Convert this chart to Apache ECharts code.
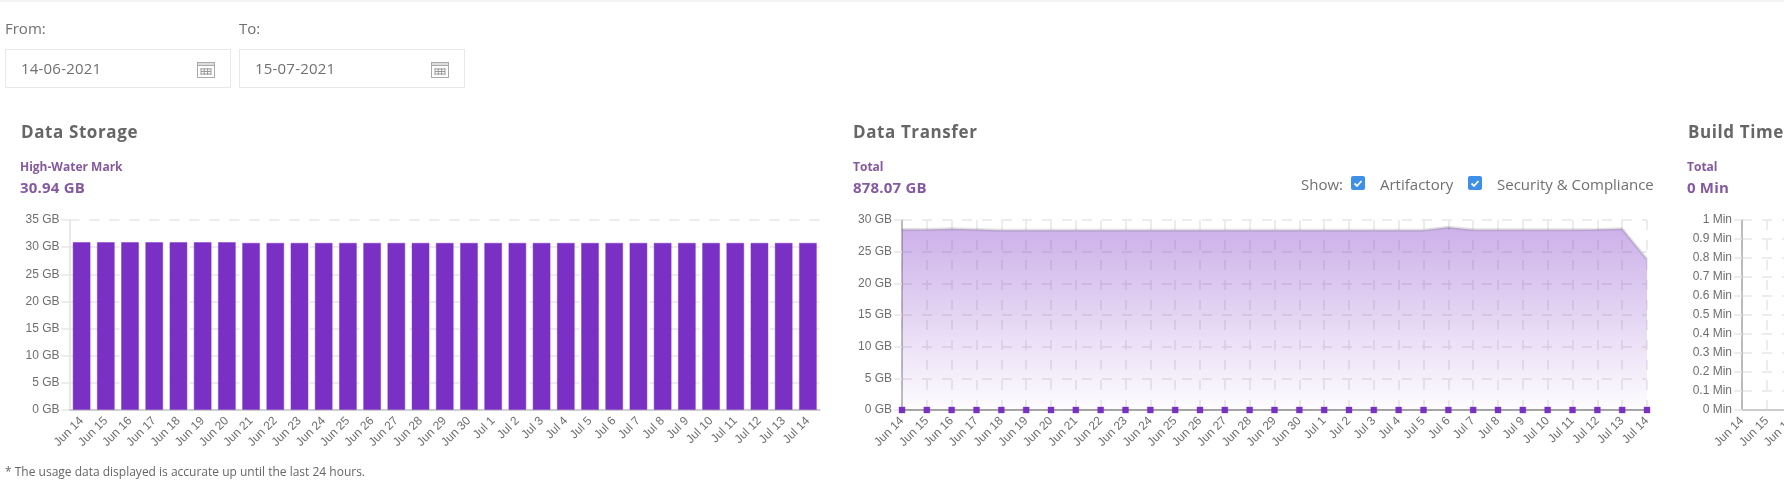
<!DOCTYPE html>
<html><head><meta charset="utf-8">
<script src="https://cdn.jsdelivr.net/npm/echarts@6/dist/echarts.min.js"></script>
<style>
html,body{margin:0;padding:0;width:1784px;height:482px;overflow:hidden;background:#fff;font-family:"Open Sans",sans-serif;color:#666}
#strip{position:absolute;left:0;top:0;width:1784px;height:2px;background:#f4f4f4}
#chart{position:absolute;left:0;top:0;width:2600px;height:482px}
.t{position:absolute;white-space:nowrap;line-height:1}
.lab{font-size:15px;top:21px;color:#707070}
.inp{position:absolute;top:49px;width:224px;height:37px;border:1px solid #e8e8e8;background:#fff;box-sizing:content-box}
.inp span{position:absolute;left:15px;top:11px;font-size:15px;line-height:1;color:#707070;letter-spacing:.2px}
.inp svg{position:absolute;right:15px;top:10px}
.h{font-size:17px;font-weight:700;letter-spacing:.6px;top:123px;color:#666}
.s{font-size:12px;font-weight:700;color:#85599f;top:161px}
.v{font-size:15px;font-weight:700;color:#85599f;top:180px;letter-spacing:.2px}
.show{font-size:15px;top:177px;color:#707070}
.cb{position:absolute;top:176px;width:14px;height:14px;background:#3d8fe8;border-radius:2px}
.cb svg{position:absolute;left:0;top:0}
.foot{font-size:12px;left:5px;top:466px;color:#666}
</style></head><body>
<div id="strip"></div>
<div id="chart"></div>
<div class="t lab" style="left:5px">From:</div>
<div class="t lab" style="left:239px">To:</div>
<div class="inp" style="left:5px"><span>14-06-2021</span><svg width="18" height="18" viewBox="0 0 18 18"><rect x=".5" y="2.5" width="17" height="15" fill="#fff" stroke="#aaa"/><rect x=".5" y="2.5" width="17" height="3" fill="#ddd" stroke="#aaa"/><path d="M4 9h10M4 11.5h10M4 14h10M4 8v7M7.3 8v7M10.6 8v7M14 8v7" stroke="#999" fill="none"/></svg></div>
<div class="inp" style="left:239px"><span>15-07-2021</span><svg width="18" height="18" viewBox="0 0 18 18"><rect x=".5" y="2.5" width="17" height="15" fill="#fff" stroke="#aaa"/><rect x=".5" y="2.5" width="17" height="3" fill="#ddd" stroke="#aaa"/><path d="M4 9h10M4 11.5h10M4 14h10M4 8v7M7.3 8v7M10.6 8v7M14 8v7" stroke="#999" fill="none"/></svg></div>
<div class="t h" style="left:21px">Data Storage</div>
<div class="t s" style="left:20px">High-Water Mark</div>
<div class="t v" style="left:20px">30.94 GB</div>
<div class="t h" style="left:853px">Data Transfer</div>
<div class="t s" style="left:853px">Total</div>
<div class="t v" style="left:853px">878.07 GB</div>
<div class="t show" style="left:1301px">Show:</div>
<div class="cb" style="left:1351px"><svg width="14" height="14"><path d="M3.5 7.5l2.5 2.5 4.5-5" stroke="#fff" stroke-width="1.8" fill="none"/></svg></div>
<div class="t show" style="left:1380px">Artifactory</div>
<div class="cb" style="left:1468px"><svg width="14" height="14"><path d="M3.5 7.5l2.5 2.5 4.5-5" stroke="#fff" stroke-width="1.8" fill="none"/></svg></div>
<div class="t show" style="left:1497px">Security &amp; Compliance</div>
<div class="t h" style="left:1688px">Build Time</div>
<div class="t s" style="left:1687px">Total</div>
<div class="t v" style="left:1687px">0 Min</div>
<div class="t foot">* The usage data displayed is accurate up until the last 24 hours.</div>
<script>
const days = ['Jun 14','Jun 15','Jun 16','Jun 17','Jun 18','Jun 19','Jun 20','Jun 21','Jun 22','Jun 23','Jun 24','Jun 25','Jun 26','Jun 27','Jun 28','Jun 29','Jun 30','Jul 1','Jul 2','Jul 3','Jul 4','Jul 5','Jul 6','Jul 7','Jul 8','Jul 9','Jul 10','Jul 11','Jul 12','Jul 13','Jul 14'];
const storage = [30.94,30.94,30.94,30.94,30.94,30.94,30.94,30.82,30.82,30.82,30.82,30.82,30.82,30.82,30.82,30.82,30.82,30.82,30.82,30.82,30.82,30.82,30.82,30.82,30.82,30.82,30.82,30.82,30.82,30.82,30.82];
const artifactory = [28.5,28.5,28.6,28.5,28.4,28.4,28.4,28.4,28.4,28.4,28.4,28.4,28.4,28.4,28.4,28.4,28.4,28.4,28.4,28.4,28.4,28.4,28.85,28.45,28.45,28.45,28.45,28.45,28.5,28.6,23.8];
const security = [0,0,0,0,0,0,0,0,0,0,0,0,0,0,0,0,0,0,0,0,0,0,0,0,0,0,0,0,0,0,0];
const buildMinutes = [0,0,0,0,0,0,0,0,0,0,0,0,0,0,0,0,0,0,0,0,0,0,0,0,0,0,0,0,0,0,0];

const purple = '#7a30c5', grid = '#e6e6e6', font = '"Liberation Sans",Arial,sans-serif', labelColor = '#6e6e6e';
const dashed = {show:true, lineStyle:{color:grid, width:1.5, type:[10,10]}};
const xAxis = (i, gap, vLines, lineColor) => ({
  type:'category', gridIndex:i, data:days, boundaryGap:gap,
  axisLine:{show:true, onZero:false, lineStyle:{color:lineColor, width:1.5}},
  axisTick:{show:false},
  axisLabel:{interval:0, rotate:45, color:labelColor, fontFamily:font, fontSize:12, margin:9},
  splitLine: vLines ? {show:true, interval:0, lineStyle:{color:grid, width:1.5, type:[10,10]}} : {show:false}
});
const yAxis = (i, max, step, unit, lineColor) => ({
  type:'value', gridIndex:i, min:0, max:max, interval:step,
  axisLine:{show:true, lineStyle:{color:lineColor, width:1.5}},
  axisTick:{show:true, length:8, lineStyle:{color:grid, width:1.5}},
  axisLabel:{color:labelColor, fontFamily:font, fontSize:12, margin:10,
    formatter:v => (Math.round(v*10)/10) + ' ' + unit},
  splitLine:dashed
});
const chart = echarts.init(document.getElementById('chart'), null, {renderer:'canvas'});
chart.setOption({
  animation:false,
  grid:[
    {left:69.5, top:220, width:750.5, height:190},
    {left:902, top:220, width:745, height:190},
    {left:1742, top:220, width:745, height:190}
  ],
  xAxis:[xAxis(0,true,false,'#c4c4c4'), xAxis(1,false,true,'#aaa'), xAxis(2,false,true,'#ccc')],
  yAxis:[yAxis(0,35,5,'GB','#e0e0e0'), yAxis(1,30,5,'GB','#aaa'), yAxis(2,1,0.1,'Min','#aaa')],
  series:[
    {name:'Data Storage', type:'bar', xAxisIndex:0, yAxisIndex:0, data:storage, barWidth:18,
      itemStyle:{color:purple, borderColor:'rgba(122,48,197,0.45)', borderWidth:1}},
    {name:'Artifactory', type:'line', xAxisIndex:1, yAxisIndex:1, data:artifactory, showSymbol:false, smooth:false,
      lineStyle:{color:'rgba(90,90,90,0.18)', width:3},
      areaStyle:{opacity:1, color:{type:'linear', x:0,y:0,x2:0,y2:1, colorStops:[
        {offset:0,color:'rgba(122,48,197,0.38)'},{offset:1,color:'rgba(122,48,197,0.01)'}]}}},
    {name:'Security & Compliance', type:'line', xAxisIndex:1, yAxisIndex:1, data:security,
      symbol:'rect', symbolSize:6, showSymbol:true,
      itemStyle:{color:purple, borderColor:'rgba(122,48,197,0.35)', borderWidth:1},
      lineStyle:{color:'#999', width:1.5}},
    {name:'Build Time', type:'line', xAxisIndex:2, yAxisIndex:2, data:buildMinutes, showSymbol:false,
      lineStyle:{color:'#ccc', width:2}}
  ]
});
</script>
</body></html>
